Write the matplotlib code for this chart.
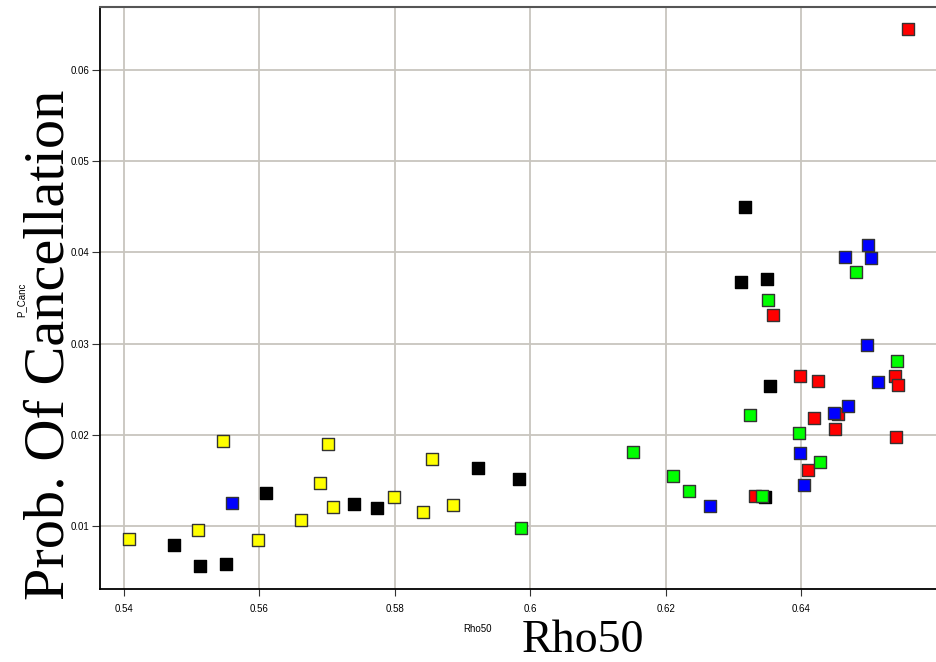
import matplotlib
matplotlib.use("Agg")
import matplotlib.pyplot as plt

# Data (Rho50 vs probability of cancellation)
black_x = [0.5474, 0.5512, 0.5551, 0.5610, 0.5740, 0.5773, 0.5922, 0.5983,
           0.6316, 0.6311, 0.6349, 0.6354, 0.6346]
black_y = [0.00792, 0.00558, 0.00583, 0.01362, 0.01245, 0.01197, 0.01639, 0.01519,
           0.04501, 0.03679, 0.03712, 0.02539, 0.01320]

yellow_x = [0.5408, 0.5510, 0.5546, 0.5598, 0.5661, 0.5690, 0.5701, 0.5709,
            0.5798, 0.5841, 0.5855, 0.5886]
yellow_y = [0.00857, 0.00960, 0.01935, 0.00846, 0.01062, 0.01475, 0.01899, 0.01205,
            0.01318, 0.01154, 0.01731, 0.01227]

red_x = [0.6331, 0.6410, 0.6358, 0.6398, 0.6424, 0.6538, 0.6543, 0.6454,
         0.6418, 0.6450, 0.6540, 0.6557]
red_y = [0.01332, 0.01614, 0.03310, 0.02641, 0.02590, 0.02641, 0.02549, 0.02228,
         0.02181, 0.02064, 0.01976, 0.06453]

green_x = [0.5986, 0.6151, 0.6211, 0.6234, 0.6342, 0.6428, 0.6480, 0.6351,
           0.6541, 0.6324, 0.6396]
green_y = [0.00975, 0.01808, 0.01552, 0.01384, 0.01329, 0.01705, 0.03782, 0.03475,
           0.02806, 0.02217, 0.02023]

blue_x = [0.5559, 0.6265, 0.6398, 0.6403, 0.6498, 0.6464, 0.6502, 0.6496,
          0.6513, 0.6469, 0.6448]
blue_y = [0.01256, 0.01216, 0.01804, 0.01450, 0.04078, 0.03946, 0.03935, 0.02988,
          0.02579, 0.02319, 0.02242]

x_ticks = [0.54, 0.56, 0.58, 0.60, 0.62, 0.64]
x_tick_labels = ["0.54", "0.56", "0.58", "0.6", "0.62", "0.64"]
y_ticks = [0.01, 0.02, 0.03, 0.04, 0.05, 0.06]
y_tick_labels = ["0.01", "0.02", "0.03", "0.04", "0.05", "0.06"]

fig = plt.figure(figsize=(9.37, 6.62), dpi=100)
ax = fig.add_axes([0.107, 0.1103, 0.893, 0.879])

ax.set_xlim(0.5365, 0.6600)
ax.set_ylim(0.0031, 0.0669)

ax.set_xticks(x_ticks)
ax.set_xticklabels(x_tick_labels)
ax.set_yticks(y_ticks)
ax.set_yticklabels(y_tick_labels)
ax.tick_params(axis="y", labelsize=7, length=6, width=0.8, color="#333333", pad=2)
ax.tick_params(axis="x", labelsize=7, length=5, width=0.8, color="#333333", pad=6)
for lab in ax.get_xticklabels() + ax.get_yticklabels():
    lab.set_family("Liberation Sans")

ax.grid(True, color="#c8c5be", linewidth=1.3)
ax.set_axisbelow(True)

for side in ["left", "bottom"]:
    ax.spines[side].set_color("black")
    ax.spines[side].set_linewidth(1.3)
ax.spines["top"].set_color("#555555")
ax.spines["top"].set_linewidth(1.5)
ax.spines["right"].set_visible(False)

common = dict(marker="s", s=80, linewidths=1.0, zorder=3)
ax.scatter(black_x, black_y, c="black", edgecolors="black", **common)
ax.scatter(yellow_x, yellow_y, c="#ffff00", edgecolors="#333333", **common)
ax.scatter(red_x, red_y, c="#ff0000", edgecolors="#333333", **common)
ax.scatter(green_x, green_y, c="#00ff00", edgecolors="#333333", **common)
ax.scatter(blue_x, blue_y, c="#0000ff", edgecolors="#333333", **common)

# small original axis titles
fig.text(478 / 937, 1 - 629 / 662, "Rho50", fontsize=7, family="Liberation Sans",
         ha="center", va="center")
fig.text(21 / 937, 1 - 300 / 662, "P_Canc", fontsize=7, family="Liberation Sans",
         ha="center", va="center", rotation=90)

# large overlaid titles
fig.text(583 / 937, 1 - 641 / 662, "Rho50", fontsize=33, family="Liberation Serif",
         ha="center", va="center")
fig.text(50 / 937, 1 - 345 / 662, "Prob. Of Cancellation", fontsize=42,
         family="Liberation Serif", ha="center", va="center", rotation=90)

fig.savefig("out.png", dpi=100)
